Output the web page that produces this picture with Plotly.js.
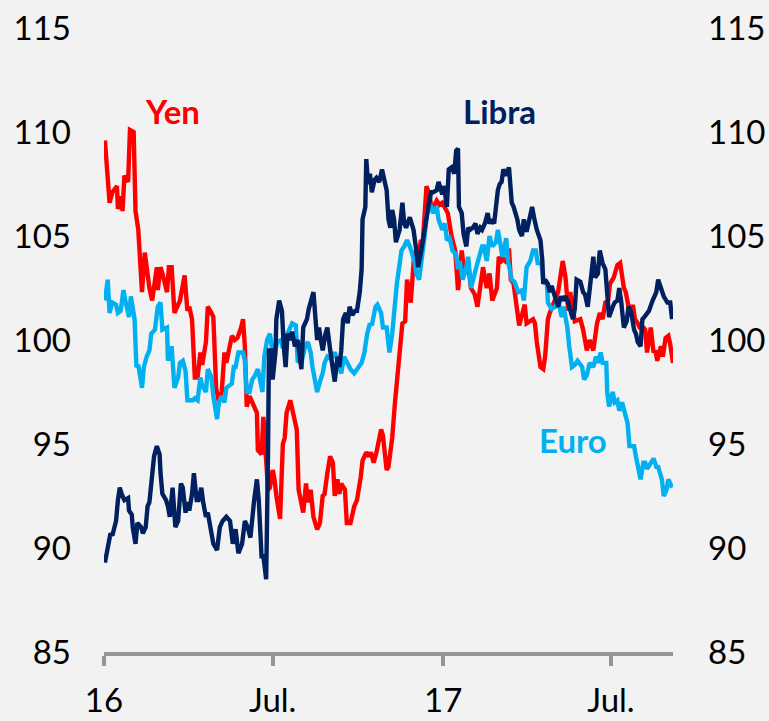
<!DOCTYPE html>
<html>
<head>
<meta charset="utf-8">
<script src="https://cdn.plot.ly/plotly-3.0.1.min.js"></script>
<style>html,body{margin:0;padding:0;background:#f2f2f2;}#chart{width:769px;height:721px;}</style>
</head>
<body>
<div id="chart"></div>
<script>
const tickDates = ['2016-01-01','2016-07-01','2017-01-01','2017-07-01'];
const tickLabels = ['16','Jul.','17','Jul.'];
const yTicks = [85,90,95,100,105,110,115];

const yenDates = [
'2016-01-02','2016-01-07','2016-01-10','2016-01-15','2016-01-16','2016-01-20','2016-01-21','2016-01-23','2016-01-27','2016-01-29',
'2016-02-02','2016-02-04','2016-02-07','2016-02-11','2016-02-14','2016-02-17','2016-02-19','2016-02-22','2016-02-27','2016-02-28',
'2016-03-02','2016-03-04','2016-03-09','2016-03-11','2016-03-14','2016-03-17','2016-03-23','2016-03-28','2016-03-31',
'2016-04-02','2016-04-05','2016-04-08','2016-04-11','2016-04-14','2016-04-16','2016-04-20','2016-04-22','2016-04-26','2016-04-28',
'2016-05-01','2016-05-04','2016-05-07','2016-05-10','2016-05-12','2016-05-18','2016-05-21','2016-05-24','2016-05-28','2016-05-30',
'2016-06-01','2016-06-03','2016-06-06','2016-06-09','2016-06-14','2016-06-15','2016-06-19','2016-06-21','2016-06-26','2016-06-28',
'2016-07-01','2016-07-03','2016-07-05','2016-07-09','2016-07-12','2016-07-14','2016-07-16','2016-07-20','2016-07-23','2016-07-25','2016-07-27','2016-07-29',
'2016-08-03','2016-08-06','2016-08-08','2016-08-11','2016-08-14','2016-08-18','2016-08-21','2016-08-24','2016-08-26','2016-08-29',
'2016-09-01','2016-09-04','2016-09-06','2016-09-09','2016-09-11','2016-09-13','2016-09-17','2016-09-19','2016-09-23','2016-09-27','2016-09-30',
'2016-10-04','2016-10-06','2016-10-10','2016-10-13','2016-10-15','2016-10-18','2016-10-21','2016-10-26','2016-10-28',
'2016-11-01','2016-11-03','2016-11-07','2016-11-10','2016-11-12','2016-11-15','2016-11-18','2016-11-21','2016-11-23','2016-11-27',
'2016-12-01','2016-12-03','2016-12-08','2016-12-10','2016-12-14','2016-12-17','2016-12-20','2016-12-25','2016-12-28','2016-12-31',
'2017-01-03','2017-01-06','2017-01-10','2017-01-14','2017-01-17','2017-01-21','2017-01-24','2017-01-28','2017-01-31',
'2017-02-04','2017-02-07','2017-02-11','2017-02-13','2017-02-17','2017-02-20','2017-02-23','2017-02-28',
'2017-03-02','2017-03-05','2017-03-07','2017-03-11','2017-03-13','2017-03-15','2017-03-18','2017-03-22','2017-03-24','2017-03-27','2017-03-30',
'2017-04-01','2017-04-05','2017-04-08','2017-04-10','2017-04-12','2017-04-16','2017-04-19','2017-04-21','2017-04-24','2017-04-26',
'2017-05-02','2017-05-05','2017-05-10','2017-05-13','2017-05-16','2017-05-18','2017-05-23','2017-05-29',
'2017-06-01','2017-06-05','2017-06-08','2017-06-12','2017-06-16','2017-06-19','2017-06-22','2017-06-25','2017-06-28','2017-06-30',
'2017-07-04','2017-07-08','2017-07-11','2017-07-15','2017-07-17','2017-07-20','2017-07-25','2017-07-27','2017-07-30',
'2017-08-01','2017-08-05','2017-08-07','2017-08-09','2017-08-13','2017-08-16','2017-08-18','2017-08-20','2017-08-24','2017-08-26','2017-08-29',
'2017-09-01','2017-09-03','2017-09-06'];
const yenValues = [
109.6,106.6,107.1,107.4,106.3,106.9,106.2,107.9,107.6,110.1,
110.0,106.2,105.3,102.3,104.2,103.0,102.5,101.9,103.5,102.4,
103.5,103.2,102.3,103.5,103.5,101.3,101.9,103.1,101.4,
101.6,101.0,98.2,98.2,99.4,98.8,99.9,101.6,101.3,101.1,
97.7,97.0,97.5,99.4,98.9,100.2,100.0,100.1,100.6,101.0,
99.7,96.8,97.3,97.0,96.5,94.7,94.5,96.3,92.8,92.9,
93.75,93.3,92.5,91.4,95.0,95.3,96.5,97.1,96.5,96.3,95.7,92.8,
91.7,93.1,92.2,92.8,91.5,90.9,91.2,92.5,92.6,93.6,
94.4,94.1,92.5,93.3,92.6,93.1,92.8,91.2,91.2,92.0,92.3,
93.4,94.2,94.6,94.4,94.6,94.1,94.6,95.7,95.4,
93.75,93.9,95.3,97.0,97.9,99.2,100.8,100.9,102.9,101.8,
104.3,103.5,104.8,104.7,107.4,107.0,106.25,106.7,106.5,106.6,
106.3,106.1,105.0,104.3,102.4,104.3,103.2,103.6,102.5,
102.2,101.6,102.9,103.5,102.5,103.2,101.9,102.5,
104.0,103.8,103.9,103.7,104.4,102.9,102.7,101.1,100.7,101.2,101.7,
100.8,100.9,101.0,100.8,99.9,98.7,98.6,99.2,101.0,101.3,
101.9,102.3,103.8,103.0,101.4,102.3,100.9,101.0,
100.5,99.5,100.0,99.5,100.8,101.3,101.0,101.8,101.9,102.7,
103.0,103.6,103.7,102.5,102.3,101.6,101.6,101.0,100.8,
100.6,100.6,100.5,99.4,100.6,99.4,99.5,99.0,99.7,99.2,100.1,
100.2,99.8,98.9];

const euroDates = [
'2016-01-02','2016-01-05','2016-01-07','2016-01-10','2016-01-14','2016-01-16','2016-01-19','2016-01-22','2016-01-24','2016-01-28','2016-01-30',
'2016-02-01','2016-02-03','2016-02-05','2016-02-07','2016-02-11','2016-02-13','2016-02-16','2016-02-19','2016-02-21','2016-02-25','2016-02-28',
'2016-03-02','2016-03-04','2016-03-09','2016-03-10','2016-03-14','2016-03-17','2016-03-21','2016-03-23','2016-03-26','2016-03-29','2016-03-31',
'2016-04-06','2016-04-08','2016-04-11','2016-04-14','2016-04-16','2016-04-20','2016-04-22','2016-04-26','2016-04-28',
'2016-05-02','2016-05-04','2016-05-07','2016-05-10','2016-05-12','2016-05-18','2016-05-20','2016-05-22','2016-05-25','2016-05-30',
'2016-06-01','2016-06-03','2016-06-06','2016-06-09','2016-06-12','2016-06-15','2016-06-17','2016-06-20','2016-06-22','2016-06-25','2016-06-28',
'2016-07-01','2016-07-03','2016-07-06','2016-07-10','2016-07-12','2016-07-16','2016-07-22','2016-07-26','2016-07-28',
'2016-08-01','2016-08-05','2016-08-08','2016-08-11','2016-08-13','2016-08-18','2016-08-21','2016-08-24','2016-08-26','2016-08-29',
'2016-09-02','2016-09-06','2016-09-09','2016-09-13','2016-09-16','2016-09-19','2016-09-23','2016-09-27','2016-09-30',
'2016-10-05','2016-10-08','2016-10-11','2016-10-14','2016-10-16','2016-10-20','2016-10-22','2016-10-26','2016-10-28',
'2016-11-01','2016-11-04','2016-11-07','2016-11-09','2016-11-12','2016-11-17','2016-11-20','2016-11-23','2016-11-26',
'2016-12-01','2016-12-03','2016-12-06','2016-12-08','2016-12-12','2016-12-15','2016-12-19','2016-12-21','2016-12-25','2016-12-27','2016-12-31',
'2017-01-03','2017-01-05','2017-01-08','2017-01-11','2017-01-15','2017-01-17','2017-01-19','2017-01-22','2017-01-26','2017-01-28','2017-01-31',
'2017-02-02','2017-02-05','2017-02-07','2017-02-12','2017-02-14','2017-02-17','2017-02-20','2017-02-23','2017-02-27',
'2017-03-01','2017-03-04','2017-03-06','2017-03-10','2017-03-12','2017-03-16','2017-03-19','2017-03-23','2017-03-27','2017-03-29',
'2017-04-01','2017-04-05','2017-04-08','2017-04-11','2017-04-13','2017-04-17','2017-04-19','2017-04-23','2017-04-24','2017-04-28',
'2017-05-02','2017-05-05','2017-05-09','2017-05-11','2017-05-15','2017-05-17','2017-05-20','2017-05-23','2017-05-26','2017-05-31',
'2017-06-02','2017-06-05','2017-06-08','2017-06-12','2017-06-15','2017-06-17','2017-06-20','2017-06-22','2017-06-26','2017-06-27','2017-06-29',
'2017-07-03','2017-07-05','2017-07-08','2017-07-10','2017-07-13','2017-07-17','2017-07-19','2017-07-21','2017-07-26','2017-07-28','2017-07-30',
'2017-08-02','2017-08-05','2017-08-07','2017-08-09','2017-08-13','2017-08-16','2017-08-19','2017-08-21','2017-08-25','2017-08-27','2017-08-30',
'2017-09-01','2017-09-03','2017-09-05'];
const euroValues = [
101.9,102.9,101.3,101.8,101.7,101.3,101.4,102.4,101.9,101.1,102.1,
101.4,101.0,98.7,98.8,97.7,98.7,99.2,99.5,100.3,100.5,101.6,
101.8,100.5,100.6,99.0,99.7,97.7,98.2,98.9,99.0,98.5,97.1,
97.1,97.2,97.1,98.2,97.8,97.5,98.6,98.2,97.3,
96.2,97.0,97.3,97.0,97.7,97.9,98.7,98.7,99.4,99.4,
99.0,97.5,97.5,98.1,98.3,98.6,98.2,97.5,99.2,100.0,100.3,
99.4,99.4,99.9,100.0,99.6,100.2,100.8,100.7,99.0,
98.9,99.7,99.9,99.4,98.7,97.5,98.0,98.4,98.9,99.2,
99.1,99.4,99.0,98.4,99.2,98.9,98.6,98.4,98.6,
98.9,99.4,100.3,100.8,100.7,101.6,101.7,101.3,100.6,
100.6,99.4,100.3,101.4,102.7,104.3,104.5,104.8,104.5,
103.8,103.2,102.9,103.5,105.0,106.25,106.4,106.1,106.4,105.8,105.3,
105.6,104.8,104.9,104.3,104.1,103.4,103.8,102.9,103.5,104.0,102.5,
102.9,103.5,103.7,104.5,104.5,103.8,105.0,104.5,104.7,
105.3,104.5,104.0,104.9,103.8,102.9,102.8,102.3,102.4,101.9,
103.5,103.8,104.3,104.3,103.7,103.7,102.9,102.7,101.8,101.5,
101.6,101.9,101.1,101.6,100.6,99.7,98.7,98.8,99.0,98.7,
98.1,98.3,98.9,98.7,99.2,98.9,99.4,98.9,98.9,97.5,96.8,
97.5,97.0,97.1,96.6,97.0,96.2,96.0,94.9,94.9,94.4,93.9,
93.3,94.1,94.1,93.8,94.1,94.3,93.9,93.9,93.3,92.5,92.8,
93.3,93.1,92.9];

const libraDates = [
'2016-01-02','2016-01-05','2016-01-08','2016-01-10','2016-01-14','2016-01-16','2016-01-18','2016-01-20','2016-01-23','2016-01-27','2016-01-28','2016-01-31',
'2016-02-01','2016-02-04','2016-02-06','2016-02-10','2016-02-12','2016-02-15','2016-02-17','2016-02-19','2016-02-21','2016-02-24','2016-02-27',
'2016-03-01','2016-03-02','2016-03-04','2016-03-08','2016-03-10','2016-03-12','2016-03-15','2016-03-18','2016-03-21','2016-03-24','2016-03-26','2016-03-29','2016-03-31',
'2016-04-02','2016-04-05','2016-04-07','2016-04-10','2016-04-12','2016-04-15','2016-04-17','2016-04-20','2016-04-22','2016-04-25','2016-04-28',
'2016-05-02','2016-05-05','2016-05-08','2016-05-12','2016-05-16','2016-05-19','2016-05-22','2016-05-25','2016-05-29',
'2016-06-01','2016-06-04','2016-06-07','2016-06-11','2016-06-14','2016-06-16','2016-06-19','2016-06-21','2016-06-24','2016-06-26','2016-06-27','2016-06-30',
'2016-07-01','2016-07-04','2016-07-05','2016-07-08','2016-07-11','2016-07-13','2016-07-15','2016-07-17','2016-07-20','2016-07-22','2016-07-25','2016-07-28',
'2016-08-01','2016-08-03','2016-08-07','2016-08-09','2016-08-12','2016-08-14','2016-08-18','2016-08-20','2016-08-22','2016-08-24','2016-08-27','2016-08-29',
'2016-09-02','2016-09-04','2016-09-06','2016-09-09','2016-09-11','2016-09-13','2016-09-15','2016-09-18','2016-09-20','2016-09-22','2016-09-25','2016-09-28','2016-09-30',
'2016-10-03','2016-10-05','2016-10-06','2016-10-09','2016-10-10','2016-10-12','2016-10-14','2016-10-16','2016-10-19','2016-10-21','2016-10-24','2016-10-27',
'2016-11-01','2016-11-03','2016-11-05','2016-11-07','2016-11-09','2016-11-11','2016-11-15','2016-11-18','2016-11-20','2016-11-22','2016-11-26','2016-11-30',
'2016-12-03','2016-12-05','2016-12-08','2016-12-10','2016-12-14','2016-12-16','2016-12-19','2016-12-21','2016-12-25','2016-12-27','2016-12-31',
'2017-01-02','2017-01-05','2017-01-07','2017-01-10','2017-01-13','2017-01-15','2017-01-17','2017-01-18','2017-01-21','2017-01-23','2017-01-26','2017-01-28','2017-01-30',
'2017-02-02','2017-02-05','2017-02-07','2017-02-10','2017-02-12','2017-02-15','2017-02-18','2017-02-20','2017-02-22','2017-02-25',
'2017-03-01','2017-03-03','2017-03-05','2017-03-07','2017-03-10','2017-03-13','2017-03-16','2017-03-18','2017-03-22','2017-03-24','2017-03-27','2017-03-29',
'2017-04-01','2017-04-03','2017-04-07','2017-04-09','2017-04-12','2017-04-16','2017-04-18','2017-04-19','2017-04-21','2017-04-24','2017-04-26','2017-04-28',
'2017-05-02','2017-05-05','2017-05-08','2017-05-10','2017-05-13','2017-05-16','2017-05-19','2017-05-21','2017-05-23','2017-05-25','2017-05-29',
'2017-06-01','2017-06-03','2017-06-06','2017-06-10','2017-06-12','2017-06-14','2017-06-17','2017-06-19','2017-06-22','2017-06-25','2017-06-27','2017-06-29',
'2017-07-03','2017-07-05','2017-07-08','2017-07-10','2017-07-12','2017-07-15','2017-07-18','2017-07-20','2017-07-23','2017-07-26','2017-07-28','2017-07-30',
'2017-08-02','2017-08-04','2017-08-06','2017-08-09','2017-08-11','2017-08-15','2017-08-17','2017-08-19','2017-08-21','2017-08-25','2017-08-27','2017-08-31',
'2017-09-03','2017-09-05'];
const libraValues = [
89.3,89.9,90.7,90.6,91.3,92.3,92.9,92.6,92.3,92.4,91.8,91.6,
91.0,90.2,91.2,91.0,90.7,91.0,92.0,92.2,93.3,94.4,94.9,
94.5,93.6,92.6,92.3,92.0,91.5,92.9,91.0,91.3,93.1,92.9,91.7,92.2,
91.8,92.6,93.6,92.3,92.3,92.9,92.2,91.5,91.7,90.9,90.2,
89.9,91.0,91.3,91.5,91.3,90.2,90.9,89.75,90.2,
91.3,91.0,90.5,92.3,93.3,92.3,89.6,89.6,88.5,94.6,99.5,99.5,
98.1,99.4,101.0,101.9,101.4,99.7,98.7,100.3,100.0,100.4,99.7,100.0,
98.6,100.6,101.0,101.5,102.1,102.3,100.0,100.6,100.0,99.5,100.3,100.6,
99.2,98.7,98.0,99.2,98.7,99.5,101.0,101.3,100.8,101.6,101.2,101.4,101.4,
102.3,103.4,105.8,106.4,108.7,107.5,108.0,107.1,107.7,107.8,107.6,108.2,
107.2,105.8,105.4,106.25,105.8,104.7,105.3,106.6,105.6,105.4,105.9,105.3,
104.3,103.5,104.2,104.8,106.1,106.4,107.1,107.1,107.2,107.6,107.0,
107.4,106.4,108.2,108.3,108.0,109.1,109.2,106.4,106.1,105.1,104.5,105.4,105.3,
105.4,105.6,105.1,105.4,105.3,105.6,106.1,105.6,105.8,105.6,
107.2,107.5,107.6,108.2,107.9,108.3,106.6,106.4,105.8,105.3,105.0,105.8,
105.2,105.6,106.4,105.9,105.3,104.8,103.8,102.7,102.9,102.7,102.3,102.6,
102.1,101.6,102.1,101.9,102.1,101.8,101.3,101.0,101.5,102.9,102.8,
102.3,102.2,101.6,103.2,104.0,103.0,103.2,104.3,103.7,103.4,102.3,101.1,
101.6,101.8,101.9,102.5,101.9,100.6,100.9,101.6,101.3,100.5,100.3,99.9,
99.7,101.0,101.1,101.3,101.4,101.9,102.1,102.3,102.9,102.3,102.1,101.8,
101.8,101.0];

const FONT = 'Lato, "Open Sans", sans-serif';
function line(name, x, y, color){
  return {type:'scatter', mode:'lines', name:name, x:x, y:y,
          line:{color:color, width:4.4}, hoverinfo:'skip', showlegend:false};
}
const traces = [
  line('Yen', yenDates, yenValues, '#ff0000'),
  line('Euro', euroDates, euroValues, '#00b0f0'),
  line('Libra', libraDates, libraValues, '#002060'),
  {type:'scatter', mode:'lines', x:libraDates, y:libraValues, yaxis:'y2', opacity:0, hoverinfo:'skip', showlegend:false}
];

const layout = {
  width:769, height:721,
  margin:{l:104, r:96, t:28, b:69},
  paper_bgcolor:'#f2f2f2', plot_bgcolor:'#f2f2f2',
  font:{family:FONT, color:'#000000', size:33},
  xaxis:{type:'date', range:['2016-01-01','2017-09-06'],
         tickvals:tickDates, ticktext:tickLabels,
         showgrid:false, zeroline:false,
         showline:true, linecolor:'#959595', linewidth:4,
         ticks:'outside', ticklen:10, tickwidth:4, tickcolor:'#959595',
         tickfont:{family:FONT, size:33, color:'#000000'}, ticklabelstandoff:6},
  yaxis:{range:[85,115], tickvals:yTicks, showgrid:false, zeroline:false, showline:false,
         ticks:'', tickfont:{family:FONT, size:33, color:'#000000'}, ticklabelstandoff:32},
  yaxis2:{range:[85,115], tickvals:yTicks, overlaying:'y', side:'right', showgrid:false, zeroline:false, showline:false,
         ticks:'', tickfont:{family:FONT, size:33, color:'#000000'}, ticklabelstandoff:34},
  annotations:[
    {x:'2016-03-15', y:111.0, xref:'x', yref:'y', text:'Yen', showarrow:false,
     font:{family:FONT, size:33, color:'#ff0000', weight:'bold'}, xanchor:'center', yanchor:'middle'},
    {x:'2017-03-03', y:111.0, xref:'x', yref:'y', text:'Libra', showarrow:false,
     font:{family:FONT, size:33, color:'#002060', weight:'bold'}, xanchor:'center', yanchor:'middle'},
    {x:'2017-05-21', y:95.2, xref:'x', yref:'y', text:'Euro', showarrow:false,
     font:{family:FONT, size:33, color:'#00b0f0', weight:'bold'}, xanchor:'center', yanchor:'middle'}
  ]
};
Plotly.newPlot('chart', traces, layout, {displayModeBar:false, staticPlot:true});
</script>
</body>
</html>
